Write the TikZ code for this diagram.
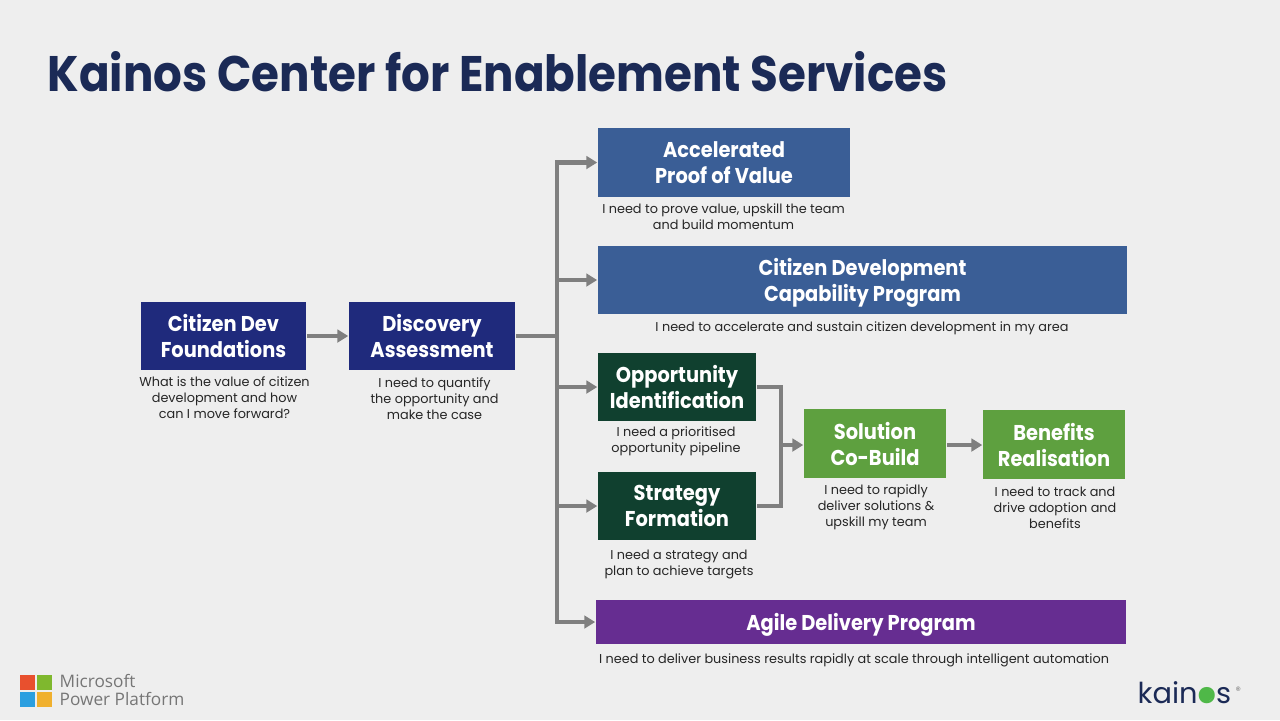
\documentclass[tikz,border=0pt]{standalone}
\usepackage{fontspec}
\usetikzlibrary{arrows.meta}
\setmainfont{Poppins}
\newfontfamily\logofont{Open Sans}
\newfontfamily\narrowfont[FakeStretch=0.905]{Poppins}
\definecolor{pagebg}{HTML}{EEEEEE}
\definecolor{titleblue}{HTML}{1B2A56}
\definecolor{navybox}{HTML}{1F2A7C}
\definecolor{bluebox}{HTML}{3A5E96}
\definecolor{darkbox}{HTML}{10402F}
\definecolor{greenbox}{HTML}{5EA03F}
\definecolor{purplebox}{HTML}{662D91}
\definecolor{linegray}{HTML}{7F7F7F}
\definecolor{captiontext}{HTML}{262626}
\definecolor{logotext}{HTML}{767676}
\definecolor{kainosgreen}{HTML}{4FB848}
\definecolor{logored}{HTML}{E8502E}
\definecolor{logogreen}{HTML}{7FB82E}
\definecolor{logoblue}{HTML}{2B9FE0}
\definecolor{logoyellow}{HTML}{F0B02E}
\begin{document}
\begin{tikzpicture}[x=0.01cm,y=-0.01cm,
  main box/.style={rectangle,inner sep=0pt,text=white,align=center,text depth=0pt,font=\narrowfont\fontsize{6.1}{7.4}\selectfont\bfseries},
  caption/.style={inner sep=0pt,text=captiontext,align=center,font=\fontsize{3.65}{4.55}\selectfont},
  link/.style={draw=linegray,line width=1.2pt},
  arrow link/.style={link,-{Triangle[length=3.1pt,width=3.6pt]}},
  logo square/.style={rectangle,inner sep=0pt,minimum size=0.15cm}]
\useasboundingbox[fill=pagebg] (0,0) rectangle (1280,720);
\node [inner sep=0pt,anchor=west,text=titleblue,font=\narrowfont\fontsize{14.2}{16}\selectfont\bfseries](title) at (47,72) {Kainos Center for Enablement Services};
% boxes
\begin{scope}[every node/.append style={main box}]
\node [fill=navybox,minimum width=1.65cm,minimum height=0.68cm](foundations) at (223.5,336) {Citizen Dev\\Foundations};
\node [fill=navybox,minimum width=1.66cm,minimum height=0.68cm](discovery) at (432,336) {Discovery\\Assessment};
\node [fill=bluebox,minimum width=2.52cm,minimum height=0.69cm](proof) at (724,162.5) {Accelerated\\Proof of Value};
\node [fill=bluebox,minimum width=5.29cm,minimum height=0.68cm](capability) at (862.5,280) {Citizen Development\\Capability Program};
\node [fill=darkbox,minimum width=1.58cm,minimum height=0.68cm](opportunity) at (677,387) {Opportunity\\Identification};
\node [fill=darkbox,minimum width=1.58cm,minimum height=0.68cm](strategy) at (677,506) {Strategy\\Formation};
\node [fill=greenbox,minimum width=1.42cm,minimum height=0.69cm](solution) at (875,443.5) {Solution\\Co-Build};
\node [fill=greenbox,minimum width=1.42cm,minimum height=0.69cm](benefits) at (1054,444.5) {Benefits\\Realisation};
\node [fill=purplebox,minimum width=5.30cm,minimum height=0.44cm](agile) at (861,622) {Agile Delivery Program};
\end{scope}
% captions
\begin{scope}[every node/.append style={caption}]
\node (foundationstext) at (224.5,397.5) {What is the value of citizen\\development and how\\can I move forward?};
\node (discoverytext) at (434.5,399) {I need to quantify\\the opportunity and\\make the case};
\node (prooftext) at (723.5,217) {I need to prove value, upskill the team\\and build momentum};
\node (capabilitytext) at (862,328) {I need to accelerate and sustain citizen development in my area};
\node (opportunitytext) at (676,441) {I need a prioritised\\opportunity pipeline};
\node (strategytext) at (679,564.5) {I need a strategy and\\plan to achieve targets};
\node (solutiontext) at (876,507.5) {I need to rapidly\\deliver solutions \&\\upskill my team};
\node (benefitstext) at (1055,508) {I need to track and\\drive adoption and\\benefits};
\node (agiletext) at (854,660) {I need to deliver business results rapidly at scale through intelligent automation};
\end{scope}
% junctions
\coordinate (trunk top) at (557,162.5);
\coordinate (trunk mid) at (557,336);
\coordinate (trunk cap) at (557,280);
\coordinate (trunk opp) at (557,387);
\coordinate (trunk str) at (557,506);
\coordinate (trunk low) at (557,622);
\coordinate (merge top) at (781,387);
\coordinate (merge mid) at (781,445);
\coordinate (merge low) at (781,506);
\draw [link] (discovery) -- (trunk mid);
\draw [arrow link] (trunk mid) -- (trunk top) -- (proof);
\draw [arrow link] (trunk mid) -- (trunk low) -- (agile);
\draw [arrow link] (trunk cap) -- (capability);
\draw [arrow link] (trunk opp) -- (opportunity);
\draw [arrow link] (trunk str) -- (strategy);
\draw [arrow link] (foundations) -- (discovery);
\draw [link] (opportunity.east) -- (merge top) -- (merge low) -- (strategy.east);
\draw [arrow link] (merge mid) -- (merge mid -| solution.west);
\draw [arrow link] (merge mid -| solution.east) -- (merge mid -| benefits.west);
% logos
\node [logo square,fill=logored,anchor=north west](redsquare) at (19,674) {};
\node [logo square,fill=logogreen,anchor=north west](greensquare) at (36,674) {};
\node [logo square,fill=logoblue,anchor=north west](bluesquare) at (19,691) {};
\node [logo square,fill=logoyellow,anchor=north west](yellowsquare) at (36,691) {};
\node [inner sep=0pt,anchor=west,align=left,text=logotext,font=\logofont\fontsize{4.9}{5.3}\selectfont](microsoft) at (59,690) {Microsoft\\Power Platform};
\node [inner sep=0pt,anchor=west,text=titleblue,font=\fontsize{8.2}{9}\selectfont](kainos) at (1137,693) {kain{\color{kainosgreen}o}s};
\node [circle,fill=kainosgreen,inner sep=0pt,minimum size=0.13cm](kainosdot) at (1206,695) {};
\node [inner sep=0pt,anchor=west,text=linegray,font=\fontsize{3}{3}\selectfont](registered) at (1235,691) {®};
\end{tikzpicture}
\end{document}
